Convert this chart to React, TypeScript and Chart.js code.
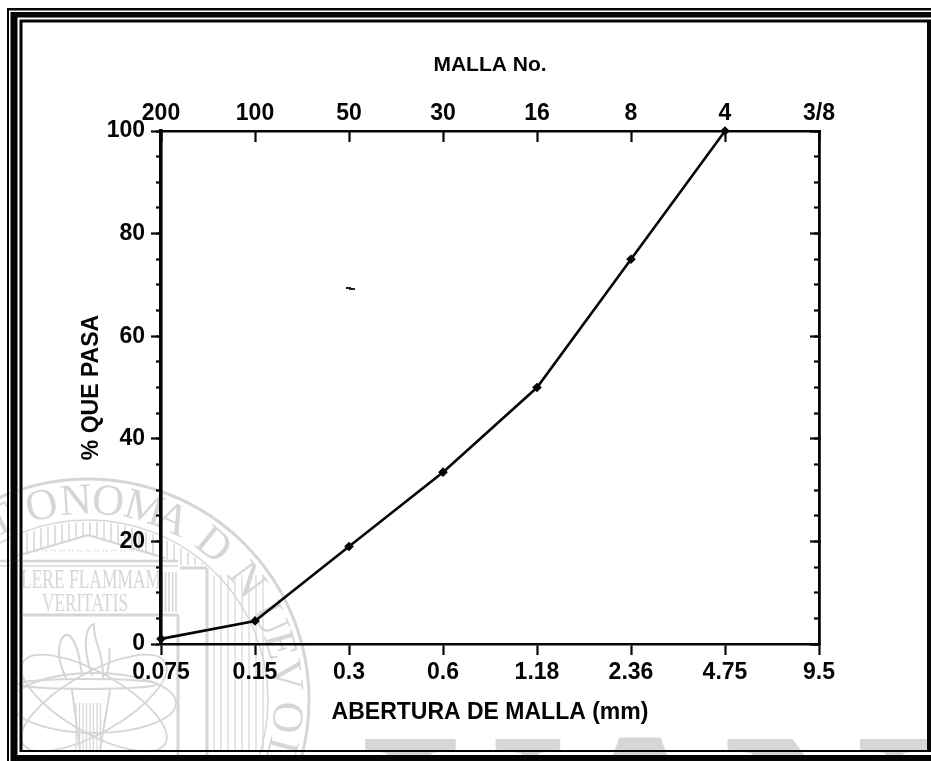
import React, { useEffect, useRef } from "react";
import { Chart, registerables } from "chart.js";

Chart.register(...registerables);

const apertureLabels = ["0.075", "0.15", "0.3", "0.6", "1.18", "2.36", "4.75", "9.5"];
const meshLabels = ["200", "100", "50", "30", "16", "8", "4", "3/8"];
const percentPassing = [1, 4.5, 19, 33.5, 50, 75, 100, null];
const sealLetters: [string, number][] = [
  ["T", -26], ["O", -13.4], ["N", -3.5], ["O", 5.8], ["M", 16.4], ["A", 25], ["D", 39],
  ["N", 53], ["U", 66], ["E", 74], ["V", 83], ["O", 95], ["L", 105],
];
const bigLetters: [string, number][] = [["U", 358], ["A", 535], ["N", 722], ["L", 925]];

const FONT = '"Liberation Sans", Arial, sans-serif';
const SERIF = '"Liberation Serif", serif';
const BLACK = "#050505";
const GRAY = "#d6d6d6";

const drawFrame = (c: CanvasRenderingContext2D) => {
  const rect = (col: string, x0: number, y0: number, x1: number, y1: number) => {
    c.fillStyle = col;
    c.fillRect(x0, y0, x1 - x0, y1 - y0);
  };
  rect("#fff", 0, 0, 931, 761);
  rect(BLACK, 7, 8, 931, 761);
  rect("#fff", 9, 10.5, 931, 761);
  rect(BLACK, 10.5, 12, 931, 761);
  rect("#fff", 17.5, 17.5, 931, 755);
  rect(BLACK, 19.5, 19.5, 931, 752);
  rect("#fff", 22.5, 22.5, 927, 750);
};

const drawSeal = (c: CanvasRenderingContext2D) => {
  const cx = 88;
  const cy = 700;
  c.save();
  c.globalCompositeOperation = "darken";
  c.strokeStyle = GRAY;
  c.fillStyle = GRAY;
  const line = (x0: number, y0: number, x1: number, y1: number, w = 1.5) => {
    c.lineWidth = w;
    c.beginPath();
    c.moveTo(x0, y0);
    c.lineTo(x1, y1);
    c.stroke();
  };
  c.lineWidth = 3;
  c.beginPath();
  c.arc(cx, cy, 221, 0, Math.PI * 2);
  c.stroke();
  c.lineWidth = 1.5;
  c.beginPath();
  c.arc(cx, cy, 180, 0, Math.PI * 2);
  c.stroke();

  c.font = `44px ${SERIF}`;
  c.textAlign = "center";
  c.textBaseline = "middle";
  sealLetters.forEach(([ch, deg]) => {
    c.save();
    c.translate(cx, cy);
    c.rotate((deg * Math.PI) / 180);
    c.fillText(ch, 0, -198);
    c.restore();
  });

  // colonnade
  for (let x = 20; x <= 205; x += 7) {
    const top = cy - Math.sqrt(Math.max(0, 178 * 178 - (x - cx) * (x - cx)));
    const bottom = x < 175 ? Math.max(top + 14, 536 + Math.abs(x - cx) * 0.3) : 565;
    line(x, top, x, bottom, 1.5);
  }
  // pediment
  line(10, 558, 88, 535, 2);
  line(88, 535, 165, 558, 2);
  line(0, 561, 178, 561, 2.5);
  line(0, 566, 178, 566, 1.5);
  c.font = `italic 13px ${SERIF}`;
  c.fillText("~ ~ ~ ~ ~ ~ ~ ~ ~ ~ ~ ~ ~", 88, 552, 110);

  // inscription
  c.font = `28px ${SERIF}`;
  c.fillText("LERE FLAMMAM", 91, 581, 140);
  c.font = `26px ${SERIF}`;
  c.fillText("VERITATIS", 85, 604, 86);

  // walls and columns
  line(22, 615, 178, 615, 3);
  line(178, 615, 178, 761, 3);
  line(207, 568, 207, 761, 3);
  line(180, 568, 207, 568, 3);
  for (let x = 162; x <= 176; x += 3.5) line(x, 572, x, 612, 1.5);
  for (let x = 214; x <= 268; x += 7) line(x, 575, x, 750, 1.2);

  // orbits
  [0, 0.52, -0.52].forEach((rot) => {
    c.lineWidth = 1.8;
    c.beginPath();
    c.ellipse(cx + 6, 703, 82, 30, rot, 0, Math.PI * 2);
    c.stroke();
  });

  // torch
  c.lineWidth = 2;
  c.beginPath();
  c.ellipse(88, 684, 70, 5, 0, 0, Math.PI * 2);
  c.stroke();
  c.beginPath();
  c.moveTo(66, 678);
  c.bezierCurveTo(52, 650, 62, 630, 70, 636);
  c.bezierCurveTo(78, 645, 80, 660, 82, 675);
  c.moveTo(92, 676);
  c.bezierCurveTo(80, 640, 88, 625, 94, 624);
  c.bezierCurveTo(92, 640, 104, 650, 103, 678);
  c.moveTo(106, 676);
  c.bezierCurveTo(112, 660, 108, 650, 110, 648);
  c.stroke();
  line(72, 690, 80, 750, 2);
  line(110, 690, 100, 750, 2);
  for (let x = 76; x <= 102; x += 3.5) line(x, 703, x, 750, 1.2);

  // large watermark letters
  c.textAlign = "left";
  c.textBaseline = "alphabetic";
  c.font = `bold 290px ${SERIF}`;
  bigLetters.forEach(([ch, x]) => c.fillText(ch, x, 929));
  c.restore();
};

const framePlugin = {
  id: "pageFrame",
  beforeDraw(chart: Chart) {
    const c = chart.ctx;
    drawFrame(c);
    drawSeal(c);
  },
  afterDatasetsDraw(chart: Chart) {
    // scan speck
    const c = chart.ctx;
    c.save();
    c.fillStyle = "#222";
    c.fillRect(346, 287, 5, 2);
    c.fillRect(349, 288, 6, 2);
    c.restore();
  },
};

const fixedSize = (size: number) => (scale: any) => {
  if (scale.isHorizontal()) scale.height = size;
  else scale.width = size;
};

const tickFont = { family: FONT, size: 23, weight: "bold" as const };

export default function App() {
  const ref = useRef<HTMLCanvasElement>(null);
  useEffect(() => {
    const chart = new Chart(ref.current!, {
      type: "line",
      data: {
        labels: apertureLabels,
        datasets: [
          {
            data: percentPassing,
            borderColor: BLACK,
            backgroundColor: BLACK,
            borderWidth: 2.6,
            tension: 0,
            pointStyle: "rectRot",
            pointRadius: 3,
            pointHoverRadius: 3,
            clip: false,
          },
        ],
      },
      plugins: [framePlugin],
      options: {
        animation: false,
        responsive: false,
        events: [],
        layout: { padding: 0 },
        plugins: { legend: { display: false }, tooltip: { enabled: false } },
        scales: {
          x: {
            type: "category",
            position: "bottom",
            offset: false,
            afterFit: fixedSize(117),
            border: { display: true, color: BLACK, width: 2.4 },
            grid: { drawOnChartArea: false, tickLength: 11, tickColor: BLACK, tickWidth: 2.2 },
            ticks: { color: BLACK, font: tickFont, padding: 4, autoSkip: false, maxRotation: 0 },
            title: {
              display: true,
              text: "ABERTURA DE MALLA (mm)",
              color: BLACK,
              font: tickFont,
              padding: { top: 0, bottom: 35 },
            },
          },
          xTop: {
            type: "category",
            position: "top",
            offset: false,
            labels: meshLabels,
            afterFit: fixedSize(131),
            border: { display: true, color: BLACK, width: 2.4 },
            grid: { drawOnChartArea: false, tickLength: -11, tickColor: BLACK, tickWidth: 2.2 },
            ticks: { color: BLACK, font: tickFont, padding: 15, autoSkip: false, maxRotation: 0 },
            title: {
              display: true,
              text: "MALLA No.",
              color: BLACK,
              font: { ...tickFont, size: 21 },
              padding: { top: 53, bottom: 0 },
            },
          },
          y: {
            position: "left",
            min: 0,
            max: 100,
            weight: 1,
            afterFit: fixedSize(161),
            border: { display: true, color: BLACK, width: 3.6 },
            grid: { drawOnChartArea: false, tickLength: 10, tickColor: BLACK, tickWidth: 2.2 },
            ticks: { stepSize: 20, color: BLACK, font: tickFont, padding: 6 },
            title: {
              display: true,
              text: "% QUE PASA",
              color: BLACK,
              font: tickFont,
              padding: { top: 78, bottom: 0 },
            },
          },
          yMinor: {
            position: "left",
            min: 0,
            max: 100,
            weight: 0,
            afterFit: fixedSize(0),
            border: { display: false },
            grid: { drawOnChartArea: false, tickLength: 5, tickColor: BLACK, tickWidth: 2.2 },
            ticks: { stepSize: 5, display: false },
          },
          yRight: {
            position: "right",
            min: 0,
            max: 100,
            weight: 1,
            afterFit: fixedSize(112),
            border: { display: true, color: BLACK, width: 2.8 },
            grid: { drawOnChartArea: false, tickLength: -9, tickColor: BLACK, tickWidth: 2.2 },
            ticks: { stepSize: 20, display: false },
          },
          yRightMinor: {
            position: "right",
            min: 0,
            max: 100,
            weight: 0,
            afterFit: fixedSize(0),
            border: { display: false },
            grid: { drawOnChartArea: false, tickLength: -5, tickColor: BLACK, tickWidth: 2.2 },
            ticks: { stepSize: 5, display: false },
          },
        },
      } as any,
    });
    return () => chart.destroy();
  }, []);
  return (
    <div style={{ position: "absolute", left: 0, top: 0, width: 931, height: 761, overflow: "hidden" }}>
      <canvas ref={ref} width={931} height={761} style={{ display: "block", filter: "blur(0.35px)" }} />
    </div>
  );
}
